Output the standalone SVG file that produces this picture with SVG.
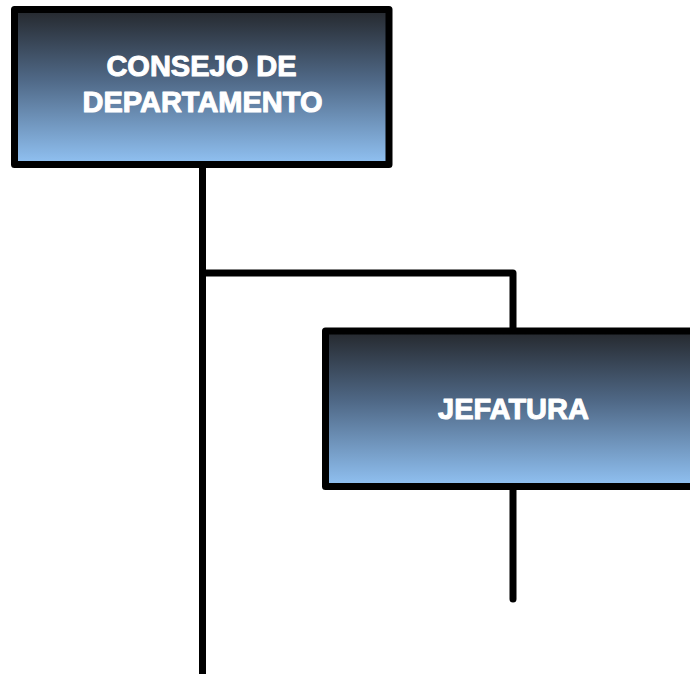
<svg xmlns="http://www.w3.org/2000/svg" width="690" height="674" viewBox="0 0 690 674">
<defs>
<linearGradient id="g" x1="0" y1="0" x2="0" y2="1">
<stop offset="0" stop-color="#25282d"/>
<stop offset="0.45" stop-color="#4f6886"/>
<stop offset="1" stop-color="#91c2f3"/>
</linearGradient>
<style>
.box{fill:url(#g);stroke:#000;stroke-width:7;stroke-linejoin:round}
.t{font-family:"Liberation Sans",Arial,sans-serif;font-weight:bold;font-size:29px;fill:#fff;stroke:#fff;stroke-width:1;stroke-linejoin:round;text-anchor:middle}
.c{fill:none;stroke:#000;stroke-width:7;stroke-linecap:round;stroke-linejoin:round}
</style>
</defs>
<rect width="690" height="674" fill="#fff"/>
<g id="connectors">
<path class="c" d="M202.5 164 V680"/>
<path class="c" d="M202.5 273 H513 V331"/>
<path class="c" d="M513 486 V599"/>
</g>
<g id="consejo">
<rect class="box" x="14.5" y="9.5" width="374.5" height="155"/>
<text class="t" x="201.5" y="76">CONSEJO DE</text>
<text class="t" x="202.5" y="112">DEPARTAMENTO</text>
</g>
<g id="jefatura">
<rect class="box" x="325.5" y="331" width="376" height="155.5"/>
<text class="t" x="513.5" y="419">JEFATURA</text>
</g>
</svg>
